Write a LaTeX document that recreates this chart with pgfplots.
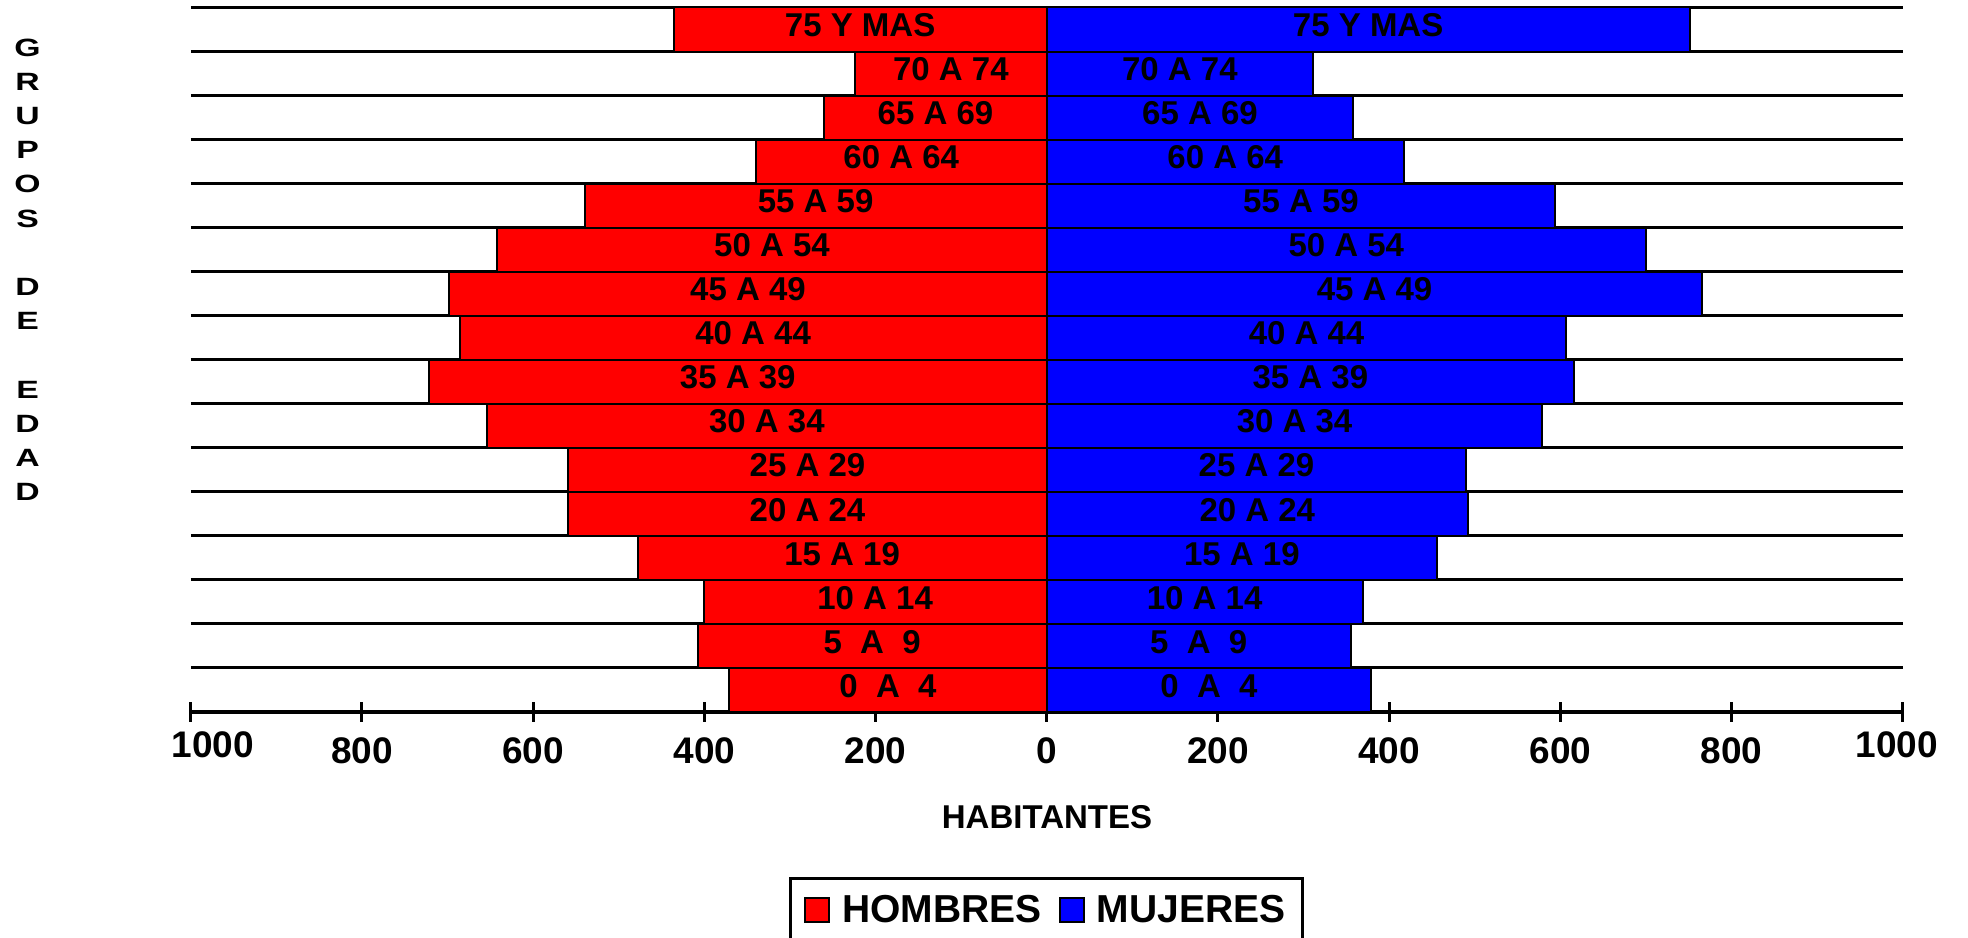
\documentclass[border=0pt]{standalone}
\usepackage{pgfplots}
\pgfplotsset{compat=1.18}
\usepackage{pgfplotstable}
\usepackage{fontspec}
\setmainfont{Liberation Sans}

\pgfplotstableread{
y m w lab
0 371 379 {0\space\space A\space\space 4}
1 408 355 {5\space\space A\space\space 9}
2 401 369 {10 A 14}
3 478 456 {15 A 19}
4 559 492 {20 A 24}
5 559 490 {25 A 29}
6 654 579 {30 A 34}
7 722 616 {35 A 39}
8 686 607 {40 A 44}
9 698 766 {45 A 49}
10 642 700 {50 A 54}
11 540 594 {55 A 59}
12 340 417 {60 A 64}
13 260 358 {65 A 69}
14 224 311 {70 A 74}
15 436 751 {75 Y MAS}
}\data

\begin{document}
\begin{tikzpicture}
\useasboundingbox (0,0) rectangle (984pt,468.5pt);
\begin{axis}[
  at={(95.4pt,112.65pt)}, anchor=south west,
  scale only axis, width=855.95pt, height=352.1pt,
  xmin=-1000, xmax=1000, ymin=-0.5, ymax=15.5,
  axis lines*=left,
  x axis line style={-, line width=2pt},
  y axis line style={draw=none},
  xtick={-800,-600,-400,-200,0,200,400,600,800},
  xticklabels={800,600,400,200,0,200,400,600,800},
  extra x ticks={-1000,1000},
  extra x tick labels={\hspace*{22pt}1000,1000\hspace*{6pt}},
  extra x tick style={xticklabel style={yshift=3pt}},
  xtick align=center, major tick length=10pt,
  xtick style={line width=1.5pt, black},
  xticklabel style={font=\fontsize{18.5}{20}\selectfont\bfseries, anchor=north, inner sep=0pt, yshift=-8pt},
  ytick={-0.5,0.5,...,15.5},
  yticklabels={},
  ytick style={draw=none},
  ymajorgrids, major grid style={line width=1.75pt, black},
  clip=false,
  legend columns=2,
  legend style={at={(0.3494,-0.2343)}, anchor=north west, draw=black, line width=1.5pt,
    inner xsep=7pt, inner ysep=4pt,
    font=\fontsize{19.5}{20}\selectfont\bfseries,
    nodes={inner xsep=1.5pt, inner ysep=4.4pt},
    /tikz/every odd column/.append style={column sep=4.5pt},
    /tikz/every even column/.append style={column sep=7pt}},
]
\addplot[xbar, bar width=1, bar shift=0pt, fill=red, draw=black, line width=1pt,
  legend image code/.code={\draw[fill=red, draw=black, line width=1pt] (0pt,-6pt) rectangle (12pt,6pt);}]
  table[x expr=-\thisrow{m}, y=y] {\data};
\addlegendentry{HOMBRES}
\addplot[xbar, bar width=1, bar shift=0pt, fill=blue, draw=black, line width=1pt,
  legend image code/.code={\draw[fill=blue, draw=black, line width=1pt] (0pt,-6pt) rectangle (12pt,6pt);}]
  table[x=w, y=y] {\data};
\addlegendentry{MUJERES}
\addplot[forget plot, only marks, mark=*, mark size=0pt, mark options={draw=none, fill=none},
  point meta=explicit symbolic, nodes near coords, nodes near coords align=center,
  every node near coord/.append style={font=\fontsize{16.5}{18}\selectfont\bfseries, anchor=center, inner sep=0pt, yshift=2pt}]
  table[x expr=-\thisrow{m}/2, y=y, meta=lab] {\data};
\addplot[forget plot, only marks, mark=*, mark size=0pt, mark options={draw=none, fill=none},
  point meta=explicit symbolic, nodes near coords, nodes near coords align=center,
  every node near coord/.append style={font=\fontsize{16.5}{18}\selectfont\bfseries, anchor=center, inner sep=0pt, yshift=2pt}]
  table[x expr=\thisrow{w}/2, y=y, meta=lab] {\data};
\end{axis}
\node[font=\fontsize{16.5}{18}\selectfont\bfseries] at (523.5pt,60pt) {HABITANTES};
\node[font={\fontsize{12.5}{17.1}\selectfont\bfseries}, align=center, anchor=north, inner sep=0pt,
  transform shape, xscale=1.35, draw=none, line width=0.4pt]
  at (13.8pt,449.35pt) {G\\R\\U\\P\\O\\S\\\mbox{}\\D\\E\\\mbox{}\\E\\D\\A\\D};
\end{tikzpicture}
\end{document}
